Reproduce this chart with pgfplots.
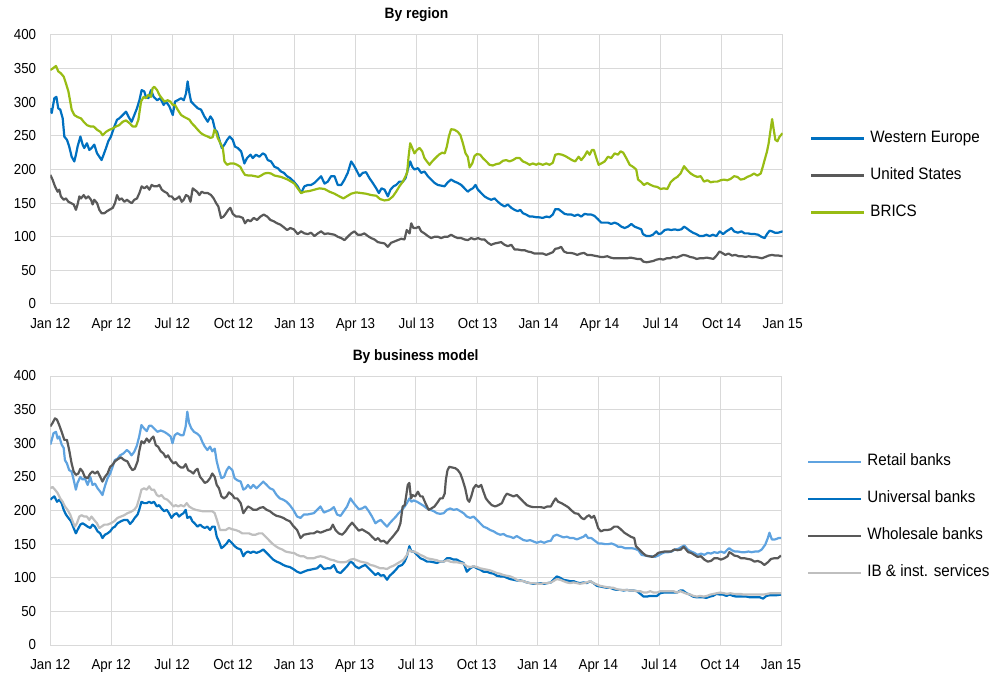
\documentclass[border=0pt]{standalone}
\usepackage{fontspec}
\setmainfont{Liberation Sans}[FakeStretch=0.92]
\usepackage{pgfplots}
\pgfplotsset{compat=1.18}
\definecolor{cWE}{RGB}{0,112,192}
\definecolor{cUS}{RGB}{89,89,89}
\definecolor{cBR}{RGB}{152,188,20}
\definecolor{cRB}{RGB}{95,163,224}
\definecolor{cUB}{RGB}{0,112,192}
\definecolor{cWB}{RGB}{89,89,89}
\definecolor{cIB}{RGB}{191,191,191}
\definecolor{gridc}{RGB}{217,217,217}
\pgfplotsset{
  panel/.style={
    scale only axis, width=732.4pt, height=269pt,
    xmin=0, xmax=36, ymin=0, ymax=400,
    xtick={0,3,...,36},
    xticklabels={Jan 12,Apr 12,Jul 12,Oct 12,Jan 13,Apr 13,Jul 13,Oct 13,Jan 14,Apr 14,Jul 14,Oct 14,Jan 15},
    ytick={0,50,...,400},
    grid=major, major grid style={draw=gridc, line width=1pt},
    axis line style={draw=gridc, line width=1pt},
    major tick length=0pt,
    /pgf/number format/assume math mode=true,
    tick label style={font=\fontsize{14.5}{16}\selectfont},
    xticklabel style={inner sep=0pt, anchor=north, yshift=-14pt},
    yticklabel style={inner sep=0pt, anchor=east, xshift=-14pt},
    title style={font=\fontsize{15}{18}\selectfont\bfseries, anchor=base, yshift=10pt, inner sep=0pt},
    legend cell align=left,
    legend image code/.code={\draw[##1] (0pt,0pt) -- (53pt,0pt);},
    legend style={draw=none, fill=none, inner sep=0pt,
      font=\fontsize{16.5}{19}\selectfont,
      row sep=21pt, column sep=5pt,
      nodes={inner sep=0pt, text height=12pt, text depth=4pt}},
    every axis plot/.append style={line width=2.2pt, line join=round, mark=none},
  }
}
\begin{document}
\begin{tikzpicture}
\useasboundingbox (0,0) rectangle (992pt,672pt);
% ---------------- By region ----------------
\begin{axis}[panel, at={(50.3pt,368pt)}, anchor=south west,
  title={By region},
  legend style={at={(1.0373,0.4777)}, anchor=west}]
\addplot[cWE] coordinates {(0,291)(0.07,284)(0.2,306)(0.3,308)(0.39,291)(0.49,289)(0.61,276)(0.69,249)(0.82,244)(0.93,234)(1.05,219)(1.18,212)(1.26,222)(1.34,234)(1.48,249)(1.59,237)(1.67,232)(1.8,239)(1.92,229)(2.03,232)(2.16,237)(2.3,224)(2.41,219)(2.52,214)(2.62,222)(2.74,232)(2.85,242)(2.98,249)(3.15,264)(3.28,274)(3.39,276)(3.56,281)(3.72,286)(3.89,276)(4,271)(4.13,281)(4.26,291)(4.38,303)(4.49,318)(4.62,316)(4.7,308)(4.82,306)(4.95,318)(5.08,308)(5.25,303)(5.41,306)(5.57,296)(5.69,301)(5.85,294)(6.02,281)(6.13,301)(6.26,303)(6.43,306)(6.56,303)(6.67,313)(6.75,331)(6.84,313)(6.92,301)(7.08,296)(7.25,291)(7.41,289)(7.57,279)(7.74,271)(7.87,279)(7.98,274)(8.1,259)(8.2,256)(8.31,244)(8.43,232)(8.56,237)(8.69,244)(8.82,249)(8.97,244)(9.08,234)(9.21,232)(9.38,227)(9.54,209)(9.67,217)(9.84,222)(9.95,217)(10.11,222)(10.28,219)(10.44,224)(10.56,222)(10.69,214)(10.85,212)(11.02,204)(11.18,202)(11.34,197)(11.48,195)(11.64,190)(11.8,187)(11.97,182)(12.16,175)(12.33,165)(12.49,175)(12.66,177)(12.82,177)(12.98,180)(13.15,185)(13.31,190)(13.48,179)(13.64,182)(13.8,190)(13.97,190)(14.13,177)(14.3,177)(14.46,185)(14.62,195)(14.79,212)(14.9,207)(15.03,200)(15.2,190)(15.36,195)(15.52,196)(15.69,187)(15.85,180)(16.02,172)(16.15,165)(16.28,172)(16.43,170)(16.59,160)(16.72,170)(16.87,175)(17,177)(17.16,182)(17.33,182)(17.46,187)(17.57,200)(17.69,212)(17.79,204)(17.9,200)(18.07,202)(18.23,195)(18.39,197)(18.56,190)(18.72,185)(18.89,180)(19.05,177)(19.21,176)(19.38,175)(19.54,181)(19.7,185)(19.87,182)(20.03,180)(20.2,177)(20.36,172)(20.52,167)(20.64,170)(20.77,172)(20.9,177)(21.02,170)(21.18,165)(21.34,160)(21.51,157)(21.67,155)(21.84,157)(22,152)(22.16,148)(22.33,145)(22.49,148)(22.66,143)(22.82,140)(22.98,138)(23.1,140)(23.23,135)(23.39,133)(23.56,130)(23.72,130)(23.89,129)(24,129)(24.21,128)(24.38,130)(24.54,129)(24.7,133)(24.82,141)(24.98,141)(25.11,138)(25.28,134)(25.44,133)(25.61,133)(25.77,131)(25.93,133)(26.1,130)(26.26,134)(26.43,133)(26.59,133)(26.75,131)(26.92,126)(27.08,121)(27.25,121)(27.41,121)(27.57,119)(27.74,121)(27.9,119)(28.07,115)(28.23,113)(28.39,115)(28.56,119)(28.72,115)(28.89,113)(29.05,111)(29.13,104)(29.3,101)(29.46,101)(29.62,103)(29.79,108)(29.9,104)(30.03,105)(30.2,110)(30.36,111)(30.52,110)(30.69,111)(30.85,110)(31.02,111)(31.15,115)(31.26,113)(31.43,109)(31.59,106)(31.75,104)(31.92,101)(32.08,101)(32.25,103)(32.41,101)(32.57,103)(32.74,101)(32.9,108)(33.07,104)(33.23,108)(33.39,111)(33.48,113)(33.61,108)(33.8,106)(33.97,108)(34.13,105)(34.3,105)(34.46,104)(34.62,104)(34.79,103)(34.95,100)(35.11,98)(35.25,105)(35.36,109)(35.48,108)(35.61,106)(35.77,106)(36,108)};
\addlegendentry{Western Europe}
\addplot[cUS] coordinates {(0,192)(0.11,185)(0.23,175)(0.36,167)(0.44,170)(0.52,160)(0.66,155)(0.77,157)(0.89,152)(1.02,150)(1.15,148)(1.26,140)(1.34,148)(1.43,160)(1.51,157)(1.64,162)(1.75,157)(1.87,160)(2,155)(2.08,148)(2.16,155)(2.3,150)(2.41,140)(2.52,135)(2.66,135)(2.79,138)(2.9,140)(3.07,143)(3.18,150)(3.28,162)(3.39,155)(3.51,157)(3.64,152)(3.77,155)(3.89,152)(4,150)(4.13,155)(4.26,157)(4.38,165)(4.49,175)(4.62,172)(4.75,175)(4.87,170)(4.98,177)(5.11,175)(5.25,175)(5.36,177)(5.48,170)(5.61,167)(5.74,165)(5.85,160)(5.97,160)(6.1,155)(6.23,157)(6.34,160)(6.46,152)(6.56,155)(6.67,162)(6.79,160)(6.89,152)(7,172)(7.08,170)(7.21,167)(7.33,162)(7.44,167)(7.57,165)(7.74,165)(7.9,162)(8.03,157)(8.15,150)(8.26,145)(8.39,128)(8.52,130)(8.64,135)(8.75,140)(8.85,143)(8.97,134)(9.13,130)(9.3,130)(9.46,128)(9.57,120)(9.7,125)(9.84,123)(10,128)(10.16,125)(10.33,130)(10.49,133)(10.66,130)(10.82,125)(10.98,123)(11.15,120)(11.31,118)(11.48,114)(11.64,110)(11.8,113)(11.97,111)(12.16,104)(12.33,108)(12.49,105)(12.66,104)(12.82,106)(12.98,101)(13.15,105)(13.31,108)(13.48,104)(13.64,105)(13.8,104)(13.97,103)(14.13,100)(14.3,98)(14.46,95)(14.62,100)(14.79,105)(14.95,108)(15.11,103)(15.28,103)(15.44,105)(15.61,101)(15.77,98)(15.93,96)(16.1,92)(16.26,91)(16.43,90)(16.59,85)(16.75,91)(16.92,93)(17.08,95)(17.25,97)(17.41,96)(17.52,110)(17.66,105)(17.74,120)(17.85,113)(17.98,113)(18.11,115)(18.23,108)(18.39,105)(18.56,101)(18.72,98)(18.89,100)(19.05,100)(19.21,98)(19.38,100)(19.54,100)(19.7,103)(19.87,100)(20.03,98)(20.2,98)(20.36,96)(20.52,95)(20.69,98)(20.85,96)(21.02,98)(21.18,96)(21.34,96)(21.51,91)(21.67,88)(21.84,90)(22,91)(22.16,92)(22.33,88)(22.49,86)(22.66,88)(22.82,81)(22.98,81)(23.15,80)(23.31,80)(23.48,78)(23.64,77)(23.8,75)(23.97,75)(24.21,75)(24.38,73)(24.54,75)(24.7,77)(24.82,82)(24.98,83)(25.11,85)(25.25,78)(25.41,76)(25.57,76)(25.74,75)(25.9,73)(26.07,75)(26.23,76)(26.39,73)(26.56,73)(26.72,72)(26.89,71)(27.05,70)(27.21,70)(27.38,71)(27.54,69)(27.7,68)(27.87,68)(28.03,68)(28.2,68)(28.36,68)(28.52,69)(28.69,68)(28.85,67)(29.02,67)(29.15,63)(29.31,62)(29.48,63)(29.64,64)(29.8,66)(29.97,67)(30.13,66)(30.3,68)(30.46,68)(30.62,70)(30.79,69)(30.95,71)(31.11,73)(31.28,72)(31.44,70)(31.61,69)(31.77,67)(31.93,68)(32.1,68)(32.26,69)(32.43,68)(32.59,67)(32.75,72)(32.89,78)(33.02,76)(33.18,73)(33.34,75)(33.51,72)(33.67,73)(33.84,71)(34,71)(34.16,70)(34.33,71)(34.49,70)(34.66,70)(34.82,69)(34.98,68)(35.15,70)(35.31,72)(35.48,73)(35.64,72)(35.8,72)(36,71)};
\addlegendentry{United States}
\addplot[cBR] coordinates {(0,348)(0.11,350)(0.28,354)(0.39,346)(0.52,343)(0.66,338)(0.77,328)(0.89,316)(0.98,301)(1.05,289)(1.18,281)(1.34,278)(1.51,276)(1.64,271)(1.8,266)(1.97,264)(2.13,264)(2.3,259)(2.46,256)(2.57,251)(2.74,256)(2.9,259)(3.07,261)(3.23,264)(3.39,266)(3.56,271)(3.72,273)(3.89,269)(4.05,264)(4.21,264)(4.33,274)(4.46,301)(4.59,308)(4.7,306)(4.82,311)(4.95,308)(5.03,321)(5.11,323)(5.25,318)(5.36,311)(5.48,306)(5.61,301)(5.77,303)(5.9,301)(6.02,296)(6.13,296)(6.26,289)(6.43,281)(6.59,278)(6.72,276)(6.84,274)(6.95,269)(7.11,264)(7.25,259)(7.41,254)(7.57,251)(7.74,249)(7.87,247)(7.98,248)(8.07,259)(8.15,256)(8.23,247)(8.36,239)(8.48,232)(8.56,212)(8.69,207)(8.85,209)(9.02,209)(9.18,207)(9.34,204)(9.46,197)(9.57,192)(9.74,191)(9.9,191)(10.07,190)(10.23,189)(10.36,191)(10.52,194)(10.69,195)(10.85,194)(11.02,191)(11.18,190)(11.34,189)(11.51,187)(11.67,185)(11.84,182)(12,179)(12.16,172)(12.33,165)(12.49,167)(12.74,168)(12.98,170)(13.23,172)(13.48,171)(13.72,167)(13.97,164)(14.21,160)(14.41,157)(14.57,160)(14.79,164)(15.03,166)(15.28,165)(15.52,164)(15.77,162)(16.02,161)(16.21,156)(16.43,154)(16.64,155)(16.84,160)(17,167)(17.16,175)(17.33,182)(17.46,190)(17.54,195)(17.61,219)(17.69,239)(17.79,232)(17.9,224)(18.02,229)(18.15,232)(18.28,227)(18.39,217)(18.51,212)(18.64,207)(18.77,212)(18.93,217)(19.1,222)(19.26,225)(19.39,224)(19.49,234)(19.59,249)(19.7,260)(19.87,259)(20.03,256)(20.16,251)(20.28,239)(20.41,224)(20.52,219)(20.61,203)(20.74,209)(20.85,220)(20.97,223)(21.13,222)(21.26,217)(21.43,212)(21.59,207)(21.75,206)(21.92,208)(22.08,209)(22.25,213)(22.41,214)(22.57,212)(22.74,214)(22.9,217)(23.07,217)(23.23,212)(23.39,210)(23.56,207)(23.72,209)(23.89,207)(24,209)(24.21,207)(24.38,209)(24.54,207)(24.7,210)(24.82,222)(24.98,223)(25.15,222)(25.31,220)(25.48,217)(25.64,214)(25.8,212)(25.97,219)(26.1,214)(26.26,220)(26.39,227)(26.51,222)(26.62,229)(26.72,229)(26.84,217)(26.95,207)(27.08,209)(27.25,212)(27.41,219)(27.57,217)(27.74,224)(27.9,222)(28.03,227)(28.16,225)(28.31,217)(28.48,207)(28.64,204)(28.8,200)(28.89,185)(29.02,182)(29.18,177)(29.34,180)(29.51,177)(29.67,175)(29.84,174)(30,171)(30.16,172)(30.33,171)(30.49,181)(30.66,186)(30.82,189)(30.98,194)(31.15,205)(31.31,199)(31.48,194)(31.64,191)(31.8,189)(31.97,190)(32.13,182)(32.3,184)(32.46,181)(32.62,182)(32.79,182)(32.95,184)(33.11,185)(33.28,184)(33.44,186)(33.61,190)(33.77,189)(33.93,185)(34.1,186)(34.26,189)(34.43,191)(34.59,194)(34.75,191)(34.92,194)(35.03,205)(35.11,214)(35.23,227)(35.31,239)(35.39,256)(35.48,275)(35.56,259)(35.64,244)(35.74,242)(35.85,249)(36,254)};
\addlegendentry{BRICS}
\end{axis}
% ---------------- By business model ----------------
\begin{axis}[panel, width=730.7pt, at={(50.3pt,27pt)}, anchor=south west,
  title={By business model},
  legend style={at={(1.0356,0.4743)}, anchor=west}]
\addplot[cRB] coordinates {(0,298)(0.07,305)(0.16,315)(0.28,317)(0.36,307)(0.44,310)(0.56,298)(0.66,293)(0.72,275)(0.82,270)(0.93,260)(1.05,258)(1.15,246)(1.26,231)(1.34,241)(1.48,250)(1.59,246)(1.7,248)(1.84,238)(1.97,250)(2.08,238)(2.2,240)(2.33,233)(2.46,228)(2.57,223)(2.69,236)(2.82,248)(2.95,255)(3.07,265)(3.18,275)(3.31,277)(3.44,282)(3.61,285)(3.77,290)(3.89,287)(4,282)(4.13,287)(4.26,296)(4.38,310)(4.49,327)(4.62,322)(4.75,318)(4.87,326)(4.98,326)(5.11,322)(5.28,317)(5.44,319)(5.61,317)(5.77,314)(5.93,310)(6.02,300)(6.13,312)(6.26,315)(6.43,312)(6.56,312)(6.67,325)(6.75,347)(6.84,330)(6.95,322)(7.08,317)(7.25,314)(7.38,310)(7.49,302)(7.61,295)(7.74,290)(7.87,295)(7.98,288)(8.1,292)(8.2,273)(8.31,260)(8.43,248)(8.56,250)(8.69,260)(8.8,265)(8.97,260)(9.08,248)(9.21,245)(9.38,243)(9.51,231)(9.62,233)(9.74,238)(9.87,233)(10,238)(10.16,233)(10.33,238)(10.49,243)(10.66,238)(10.82,233)(10.98,231)(11.15,223)(11.31,218)(11.48,216)(11.64,213)(11.8,208)(11.97,201)(12.16,191)(12.33,189)(12.49,194)(12.66,194)(12.82,195)(12.98,196)(13.15,201)(13.31,206)(13.48,197)(13.64,199)(13.8,201)(13.97,205)(14.13,194)(14.3,192)(14.46,199)(14.62,206)(14.79,218)(14.9,213)(15.03,208)(15.2,202)(15.36,203)(15.52,206)(15.69,199)(15.85,191)(16.02,181)(16.15,184)(16.28,186)(16.43,181)(16.59,176)(16.72,181)(16.87,186)(17.03,191)(17.16,196)(17.33,201)(17.46,206)(17.57,211)(17.69,218)(17.79,213)(17.9,215)(18.07,213)(18.23,210)(18.39,207)(18.56,203)(18.72,201)(18.89,199)(19.05,196)(19.21,195)(19.38,196)(19.54,201)(19.7,203)(19.87,201)(20.03,202)(20.2,199)(20.36,196)(20.52,191)(20.69,189)(20.85,191)(21.02,186)(21.18,181)(21.34,176)(21.51,174)(21.67,171)(21.84,169)(22,166)(22.16,164)(22.33,165)(22.49,162)(22.66,161)(22.82,159)(22.98,162)(23.15,159)(23.31,156)(23.48,155)(23.64,156)(23.8,154)(23.97,152)(24.16,154)(24.33,152)(24.49,154)(24.66,155)(24.79,162)(24.95,164)(25.12,162)(25.28,160)(25.45,161)(25.61,159)(25.78,159)(25.94,157)(26.1,159)(26.27,161)(26.38,164)(26.5,159)(26.66,159)(26.83,155)(27,151)(27.16,151)(27.32,150)(27.49,150)(27.65,151)(27.82,149)(27.98,146)(28.14,146)(28.31,144)(28.47,144)(28.64,144)(28.8,143)(28.97,141)(29.13,134)(29.3,133)(29.46,132)(29.62,132)(29.79,131)(29.95,133)(30.12,136)(30.28,138)(30.45,138)(30.61,139)(30.78,142)(30.94,143)(31.1,146)(31.24,148)(31.4,142)(31.57,139)(31.73,137)(31.89,134)(32.06,136)(32.22,134)(32.39,137)(32.55,136)(32.71,138)(32.88,137)(33.04,139)(33.21,137)(33.37,142)(33.45,144)(33.57,141)(33.73,139)(33.88,139)(34.06,138)(34.23,138)(34.39,139)(34.56,138)(34.72,139)(34.89,139)(35.05,142)(35.22,149)(35.35,159)(35.43,167)(35.55,157)(35.71,157)(35.88,159)(36,159)};
\addlegendentry{Retail banks}
\addplot[cUB] coordinates {(0,216)(0.07,218)(0.2,221)(0.33,213)(0.44,216)(0.56,211)(0.66,201)(0.77,194)(0.89,189)(1.02,184)(1.15,174)(1.26,166)(1.34,171)(1.48,179)(1.59,181)(1.7,179)(1.84,176)(1.97,174)(2.08,179)(2.2,176)(2.33,169)(2.46,166)(2.57,159)(2.69,164)(2.82,166)(2.95,169)(3.07,174)(3.18,176)(3.31,181)(3.48,184)(3.64,186)(3.8,186)(3.93,180)(4.05,184)(4.16,189)(4.3,194)(4.38,201)(4.49,213)(4.62,211)(4.75,211)(4.87,213)(4.98,211)(5.11,213)(5.25,206)(5.36,208)(5.48,203)(5.61,199)(5.74,201)(5.85,196)(5.97,189)(6.1,194)(6.23,196)(6.34,191)(6.46,194)(6.56,196)(6.67,201)(6.75,189)(6.89,191)(7,184)(7.11,181)(7.25,176)(7.38,179)(7.49,176)(7.61,174)(7.74,176)(7.87,171)(7.98,176)(8.1,176)(8.2,161)(8.31,154)(8.43,144)(8.56,147)(8.69,151)(8.8,156)(8.97,151)(9.08,147)(9.21,144)(9.38,142)(9.51,132)(9.62,137)(9.74,139)(9.87,137)(10,139)(10.16,137)(10.33,139)(10.49,142)(10.66,137)(10.82,132)(10.98,127)(11.15,124)(11.31,122)(11.48,119)(11.64,117)(11.8,116)(11.97,113)(12.16,109)(12.33,107)(12.49,109)(12.66,111)(12.82,112)(12.98,113)(13.15,114)(13.31,119)(13.48,113)(13.64,114)(13.8,114)(13.97,119)(14.13,109)(14.3,107)(14.46,112)(14.62,117)(14.79,124)(14.9,122)(15.03,117)(15.2,114)(15.36,117)(15.52,119)(15.69,114)(15.85,109)(16.02,104)(16.15,107)(16.28,103)(16.43,104)(16.59,97)(16.72,103)(16.87,107)(17.03,112)(17.16,117)(17.33,119)(17.46,124)(17.57,132)(17.69,147)(17.79,139)(17.9,139)(18.07,134)(18.23,129)(18.39,127)(18.56,124)(18.72,124)(18.89,123)(19.05,122)(19.21,124)(19.38,124)(19.54,129)(19.7,129)(19.87,127)(20.03,127)(20.2,124)(20.36,122)(20.52,109)(20.69,114)(20.85,117)(21.02,114)(21.18,112)(21.34,109)(21.51,109)(21.67,107)(21.84,106)(22,103)(22.16,102)(22.33,102)(22.49,100)(22.66,98)(22.82,97)(22.98,96)(23.15,96)(23.31,95)(23.48,93)(23.64,92)(23.8,91)(23.97,91)(24.16,92)(24.33,91)(24.49,92)(24.66,93)(24.79,97)(24.95,102)(25.12,100)(25.28,97)(25.45,96)(25.61,95)(25.78,95)(25.94,93)(26.1,92)(26.27,93)(26.43,92)(26.6,95)(26.76,92)(26.93,88)(27.09,87)(27.26,86)(27.42,85)(27.59,85)(27.75,83)(27.91,82)(28.08,82)(28.24,81)(28.41,82)(28.57,81)(28.74,81)(28.9,80)(29.07,76)(29.23,72)(29.39,72)(29.56,73)(29.72,73)(29.89,73)(30.05,77)(30.22,78)(30.38,78)(30.55,78)(30.71,78)(30.87,78)(31.04,81)(31.17,81)(31.34,77)(31.5,75)(31.66,72)(31.83,71)(31.99,71)(32.16,71)(32.32,70)(32.49,72)(32.65,73)(32.82,76)(32.98,75)(33.14,75)(33.31,73)(33.47,75)(33.64,73)(33.8,72)(33.97,72)(34.13,72)(34.3,72)(34.46,71)(34.62,71)(34.79,71)(34.95,71)(35.12,69)(35.28,73)(35.45,74)(35.61,74)(35.77,74)(36,75)};
\addlegendentry{Universal banks}
\addplot[cWB] coordinates {(0,325)(0.11,330)(0.23,337)(0.33,335)(0.44,327)(0.56,317)(0.69,305)(0.82,305)(0.93,290)(1.05,270)(1.15,258)(1.26,253)(1.38,255)(1.48,262)(1.59,258)(1.7,250)(1.84,248)(1.97,255)(2.08,258)(2.2,255)(2.33,258)(2.46,250)(2.57,243)(2.69,250)(2.82,255)(2.95,265)(3.07,268)(3.18,273)(3.31,276)(3.48,279)(3.64,275)(3.8,273)(3.93,265)(4.05,260)(4.16,262)(4.3,273)(4.38,288)(4.49,303)(4.62,300)(4.75,307)(4.87,302)(4.98,307)(5.08,310)(5.2,297)(5.31,295)(5.44,288)(5.57,285)(5.69,279)(5.8,282)(5.93,275)(6.07,270)(6.18,272)(6.3,267)(6.43,264)(6.56,264)(6.67,269)(6.79,260)(6.92,258)(7.05,255)(7.16,260)(7.25,262)(7.38,250)(7.49,246)(7.61,241)(7.74,243)(7.87,248)(7.98,255)(8.1,250)(8.2,238)(8.31,233)(8.43,221)(8.56,218)(8.69,221)(8.8,227)(8.97,223)(9.08,218)(9.21,218)(9.38,211)(9.51,196)(9.62,201)(9.74,206)(9.87,204)(10,201)(10.16,201)(10.33,204)(10.49,205)(10.66,201)(10.82,199)(10.98,195)(11.15,192)(11.31,191)(11.48,189)(11.64,186)(11.8,184)(11.97,177)(12.16,171)(12.33,159)(12.49,164)(12.66,165)(12.82,166)(12.98,166)(13.15,169)(13.31,167)(13.48,169)(13.64,171)(13.8,172)(13.92,179)(14.05,171)(14.21,166)(14.38,164)(14.54,169)(14.7,176)(14.87,182)(15.03,176)(15.2,170)(15.36,172)(15.52,169)(15.69,166)(15.85,161)(16.02,156)(16.15,159)(16.28,154)(16.43,155)(16.59,151)(16.72,156)(16.87,161)(17,166)(17.13,171)(17.25,181)(17.36,206)(17.46,208)(17.54,223)(17.61,238)(17.69,241)(17.77,218)(17.85,223)(17.98,221)(18.11,228)(18.23,221)(18.34,221)(18.48,211)(18.64,201)(18.77,203)(18.93,206)(19.1,213)(19.21,218)(19.33,218)(19.43,225)(19.49,246)(19.57,260)(19.66,265)(19.79,264)(19.95,263)(20.08,260)(20.2,255)(20.31,246)(20.44,233)(20.56,216)(20.64,213)(20.74,221)(20.85,233)(20.97,238)(21.1,235)(21.23,238)(21.34,228)(21.46,218)(21.59,213)(21.75,208)(21.92,206)(22.08,208)(22.25,211)(22.38,220)(22.49,225)(22.66,223)(22.82,221)(22.98,223)(23.15,218)(23.31,213)(23.48,208)(23.64,206)(23.8,205)(23.97,205)(24.16,205)(24.33,204)(24.49,206)(24.66,206)(24.79,213)(24.9,218)(25.02,213)(25.18,211)(25.35,208)(25.51,205)(25.68,200)(25.84,196)(26.01,195)(26.17,189)(26.3,187)(26.43,191)(26.55,193)(26.66,189)(26.79,192)(26.89,184)(26.99,174)(27.12,169)(27.29,171)(27.45,171)(27.62,172)(27.78,176)(27.95,176)(28.11,172)(28.28,167)(28.44,164)(28.6,161)(28.77,159)(28.85,147)(29.02,142)(29.18,137)(29.35,133)(29.51,132)(29.67,131)(29.84,134)(29.95,137)(30.09,138)(30.25,139)(30.41,139)(30.58,139)(30.74,142)(30.91,141)(31.07,142)(31.2,146)(31.32,142)(31.43,138)(31.57,137)(31.73,134)(31.89,131)(32.06,132)(32.22,127)(32.39,124)(32.55,125)(32.71,129)(32.88,129)(33.04,127)(33.21,129)(33.37,132)(33.45,138)(33.57,136)(33.7,133)(33.87,132)(34.03,129)(34.2,129)(34.36,128)(34.53,127)(34.69,124)(34.85,125)(35.02,123)(35.18,119)(35.35,123)(35.51,128)(35.67,129)(35.84,129)(36,133)};
\addlegendentry{Wholesale banks}
\addplot[cIB] coordinates {(0,233)(0.11,235)(0.23,231)(0.36,226)(0.49,218)(0.61,213)(0.72,206)(0.85,201)(0.98,194)(1.1,184)(1.21,176)(1.31,181)(1.43,191)(1.54,193)(1.67,191)(1.8,191)(1.92,186)(2.03,191)(2.16,186)(2.3,181)(2.41,174)(2.52,176)(2.66,179)(2.82,179)(2.98,181)(3.15,184)(3.31,189)(3.48,191)(3.64,193)(3.8,196)(3.97,198)(4.13,201)(4.26,206)(4.38,218)(4.49,231)(4.62,233)(4.75,231)(4.87,236)(4.98,231)(5.11,231)(5.25,223)(5.36,221)(5.48,223)(5.61,218)(5.77,216)(5.93,211)(6.07,206)(6.18,208)(6.3,206)(6.43,208)(6.59,206)(6.72,211)(6.84,206)(7,203)(7.16,201)(7.33,200)(7.49,199)(7.66,199)(7.82,199)(7.98,199)(8.1,196)(8.23,184)(8.36,171)(8.48,171)(8.64,171)(8.8,174)(8.97,172)(9.13,171)(9.3,169)(9.46,166)(9.62,166)(9.79,166)(9.95,164)(10.11,164)(10.28,166)(10.44,166)(10.61,161)(10.77,156)(10.93,151)(11.1,147)(11.26,144)(11.43,142)(11.59,139)(11.75,138)(11.92,137)(12,137)(12.16,134)(12.33,132)(12.49,132)(12.66,129)(12.82,129)(12.98,129)(13.15,131)(13.31,132)(13.48,131)(13.64,129)(13.8,127)(13.97,126)(14.13,124)(14.3,123)(14.46,123)(14.62,124)(14.79,127)(14.95,128)(15.11,126)(15.28,124)(15.44,123)(15.61,122)(15.77,119)(15.93,118)(16.1,116)(16.26,114)(16.43,114)(16.59,113)(16.75,116)(16.92,118)(17.08,121)(17.25,124)(17.41,127)(17.57,134)(17.69,142)(17.79,139)(17.9,139)(18.07,137)(18.23,134)(18.39,132)(18.56,129)(18.72,128)(18.89,127)(19.05,126)(19.21,124)(19.38,124)(19.54,126)(19.7,124)(19.87,123)(20.03,123)(20.2,122)(20.36,121)(20.52,117)(20.69,116)(20.85,117)(21.02,116)(21.18,114)(21.34,113)(21.51,112)(21.67,111)(21.84,109)(22,107)(22.16,106)(22.33,104)(22.49,103)(22.66,102)(22.82,100)(22.98,97)(23.15,95)(23.31,95)(23.48,93)(23.64,92)(23.8,92)(23.97,91)(24.16,91)(24.33,92)(24.49,92)(24.66,93)(24.79,95)(24.95,98)(25.12,97)(25.28,95)(25.45,93)(25.61,92)(25.78,93)(25.94,92)(26.1,91)(26.27,92)(26.43,93)(26.6,95)(26.76,92)(26.93,90)(27.09,88)(27.26,87)(27.42,86)(27.59,85)(27.75,85)(27.91,83)(28.08,82)(28.24,82)(28.41,82)(28.57,81)(28.74,81)(28.9,80)(29.07,80)(29.23,78)(29.39,78)(29.56,80)(29.72,78)(29.89,78)(30.05,80)(30.22,80)(30.38,80)(30.55,80)(30.71,80)(30.87,78)(31.04,80)(31.2,78)(31.37,76)(31.53,75)(31.69,73)(31.86,72)(32.02,73)(32.19,72)(32.35,73)(32.52,75)(32.68,76)(32.84,77)(33.01,78)(33.18,77)(33.34,76)(33.5,77)(33.67,76)(33.83,76)(34,76)(34.16,75)(34.33,75)(34.49,75)(34.66,75)(34.82,75)(34.98,75)(35.15,75)(35.31,76)(35.48,77)(35.64,77)(35.81,77)(36,77)};
\addlegendentry{IB \& inst. services}
\end{axis}
\end{tikzpicture}
\end{document}
